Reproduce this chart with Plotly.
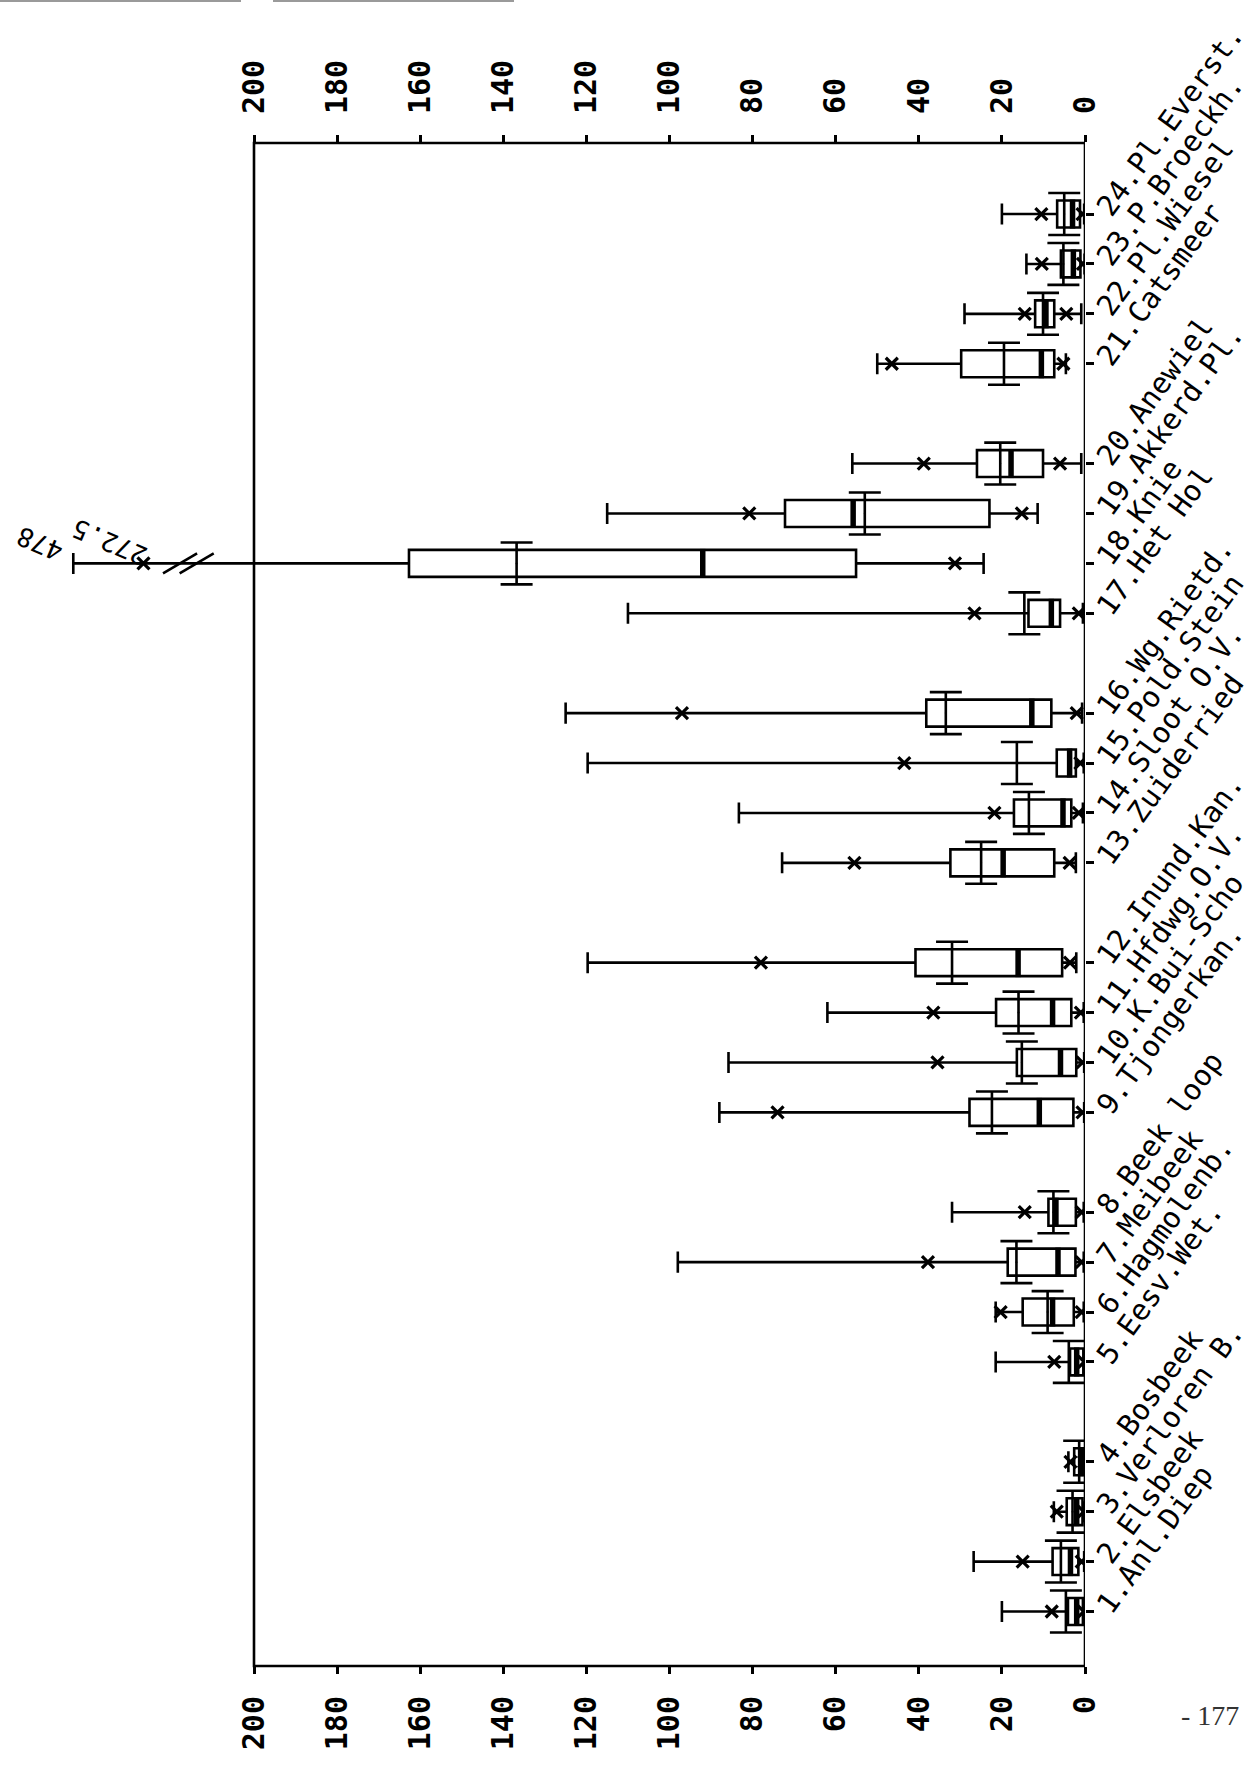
import plotly.graph_objects as go

# Sampling stations (bottom to top on the chart)
categories = [
    "1.Anl.Diep", "2.Elsbeek", "3.Verloren B.", "4.Bosbeek",
    "5.Eesv.Wet.", "6.Hagmolenb.", "7.Meibeek", "8.Beek loop",
    "9.Tjongerkan.", "10.K.Bui-Scho", "11.Hfdwg.O.V.", "12.Inund.Kan.",
    "13.Zuiderried", "14.Sloot O.V.", "15.Pold.Stein", "16.Wg.Rietd.",
    "17.Het Hol", "18.Knie", "19.Akkerd.Pl.", "20.Anewiel",
    "21.Catsmeer", "22.Pl.Wiesel", "23.P.Broeckh.", "24.Pl.Everst.",
]

# Summary statistics per station
max_val = [20, 26.8, 7.5, 4.0, 21.5, 21.5, 98, 32, 88, 85.8, 62, 119.7,
           72.9, 83.3, 119.7, 125, 110, 478, 115, 56, 50, 29, 14.1, 20]
p95 = [8, 15, 6.8, 3.5, 7.4, 20.3, 37.8, 14.5, 74, 35.5, 36.5, 78,
       55.5, 21.8, 43.5, 97, 26.6, 272.5, 80.8, 38.8, 46.5, 14.5, 10.4, 10.5]
q3 = [4.1, 7.8, 4.4, 2.6, 3.6, 15, 18.6, 8.8, 27.8, 16.4, 21.4, 40.8,
      32.4, 17.1, 6.8, 38.2, 13.6, 162.7, 72.2, 26, 29.8, 12, 5.8, 6.7]
mean = [4.6, 5.8, 3.0, 1.4, 3.9, 9.0, 16.5, 7.6, 22.4, 15.2, 16, 32,
        25, 13.5, 16.4, 33.5, 14.6, 136.8, 53, 20.4, 19.5, 10.1, 5.2, 5.0]
median = [2.0, 3.5, 2.0, 1.0, 2.0, 7.8, 6.5, 7.0, 11.0, 5.9, 7.8, 16.1,
          19.7, 5.3, 3.7, 12.8, 8.1, 92, 55.8, 17.8, 10.5, 9.4, 2.8, 3.0]
q1 = [0.5, 1.6, 0.6, 0.3, 0.4, 2.7, 2.3, 2.2, 2.8, 2.1, 3.3, 5.5,
      7.4, 3.3, 2.2, 8.1, 6.0, 55.1, 23.0, 10.1, 7.4, 7.4, 1.1, 1.2]
p5 = [0.3, 0.8, 0.3, 0.2, 0.2, 0.8, 0.8, 0.8, 0.6, 0.6, 1.0, 3.6,
      3.7, 1.5, 1.1, 2.0, 1.5, 31.3, 15.2, 6.0, 5.2, 4.5, 0.5, 0.6]
min_val = [0.1, 0.2, 0.1, 0.1, 0.1, 0.3, 0.3, 0.3, 0.2, 0.2, 0.3, 2.1,
           2.2, 0.5, 0.3, 0.7, 0.5, 24.4, 11.4, 0.9, 4.6, 0.9, 0.1, 0.2]

axis_ticks = list(range(0, 201, 20))

# Value axis is broken beyond 200: larger values are compressed
AXIS_MAX = 200
BREAK_BASE = 204.2
BREAK_SLOPE = 0.0822
BREAK_POS = 215.9


def shown(v):
    return v if v <= AXIS_MAX else BREAK_BASE + BREAK_SLOPE * v


# stations in groups of four, with an empty slot between groups
pos = [i + i // 4 for i in range(len(categories))]

FONT = "DejaVu Sans Mono"
LW = 2.6

fig = go.Figure()

fig.add_trace(go.Box(
    y=pos, q1=q1, median=median, q3=q3,
    lowerfence=min_val, upperfence=[shown(v) for v in max_val],
    orientation="h", width=0.54, whiskerwidth=0.78,
    line=dict(color="black", width=LW), fillcolor="white",
    boxpoints=False, hoverinfo="skip", showlegend=False,
))

# thick median bars
mx, my = [], []
for p, m in zip(pos, median):
    mx += [m, m, None]
    my += [p - 0.29, p + 0.29, None]
fig.add_trace(go.Scatter(x=mx, y=my, mode="lines",
                         line=dict(color="black", width=5.5),
                         hoverinfo="skip", showlegend=False))

# mean drawn as an I-beam
fig.add_trace(go.Scatter(
    x=mean, y=pos, mode="markers",
    marker=dict(size=2, color="black"),
    error_y=dict(type="constant", value=0.42, width=16,
                 thickness=LW, color="black"),
    hoverinfo="skip", showlegend=False,
))

# 5th / 95th percentile crosses
fig.add_trace(go.Scatter(
    x=[shown(v) for v in p95] + p5, y=pos + pos, mode="markers",
    marker=dict(symbol="x-thin", size=12, color="black",
                line=dict(color="black", width=3.2)),
    xaxis="x2", hoverinfo="skip", showlegend=False,
))

# axis-break slashes on the station whose whisker leaves the scale
annotations = []
for i, v in enumerate(max_val):
    if v > AXIS_MAX:
        p = pos[i]
        bx, by = [], []
        for c in (BREAK_POS + 1.9, BREAK_POS - 2.1):
            bx += [c + 4.1, c - 4.1, None]
            by += [p - 0.2, p + 0.2, None]
        fig.add_trace(go.Scatter(x=bx, y=by, mode="lines",
                                 line=dict(color="black", width=LW),
                                 hoverinfo="skip", showlegend=False))
        for val, dx, dy in ((v, -33, 20), (p95[i], -34, 22)):
            annotations.append(dict(
                x=shown(val), y=p, xref="x", yref="y", text=f"{val:g}",
                showarrow=False, xshift=dx, yshift=dy, textangle=-157,
                font=dict(family=FONT, size=26, color="black"),
            ))

annotations.append(dict(
    x=1210 / 1085, y=-49 / 1523, xref="paper", yref="paper", text="- 177",
    showarrow=False, xanchor="center", yanchor="middle",
    font=dict(family="Liberation Serif", size=28, color="#333333"),
))

xaxis_common = dict(
    range=[AXIS_MAX + 254 / 4.155, 0],
    tickmode="array", tickvals=axis_ticks,
    ticktext=[str(t) for t in axis_ticks],
    ticks="outside", ticklen=7, tickwidth=LW, tickcolor="black",
    tickangle=-90,
    tickfont=dict(family=FONT, size=30, color="black", weight="bold"),
    showline=False, showgrid=False, zeroline=False, fixedrange=True,
)

fig.update_layout(
    width=1258, height=1772,
    margin=dict(l=0, r=173, t=143, b=106),
    paper_bgcolor="white", plot_bgcolor="white",
    xaxis=dict(side="bottom", ticklabelstandoff=10, **xaxis_common),
    xaxis2=dict(side="top", overlaying="x", ticklabelstandoff=15,
                **xaxis_common),
    yaxis=dict(
        side="right", range=[-1.092, 29.423],
        tickmode="array", tickvals=pos, ticktext=categories,
        ticks="outside", ticklen=8, tickwidth=LW, tickcolor="black",
        tickangle=-54, ticklabelstandoff=0,
        tickfont=dict(family=FONT, size=29, color="black"),
        showline=False, showgrid=False, zeroline=False,
    ),
    shapes=[
        dict(type="rect", xref="x", yref="paper", x0=0, x1=AXIS_MAX,
             y0=0, y1=1, line=dict(color="black", width=LW), layer="above"),
        dict(type="rect", xref="paper", yref="paper", x0=0, x1=241 / 1085,
             y0=1 + 141 / 1523, y1=1 + 143 / 1523,
             fillcolor="#9a9a9a", line=dict(width=0)),
        dict(type="rect", xref="paper", yref="paper", x0=273 / 1085,
             x1=514 / 1085, y0=1 + 141 / 1523, y1=1 + 143 / 1523,
             fillcolor="#9a9a9a", line=dict(width=0)),
    ],
    annotations=annotations,
    showlegend=False,
)

fig.write_html("out.html")
